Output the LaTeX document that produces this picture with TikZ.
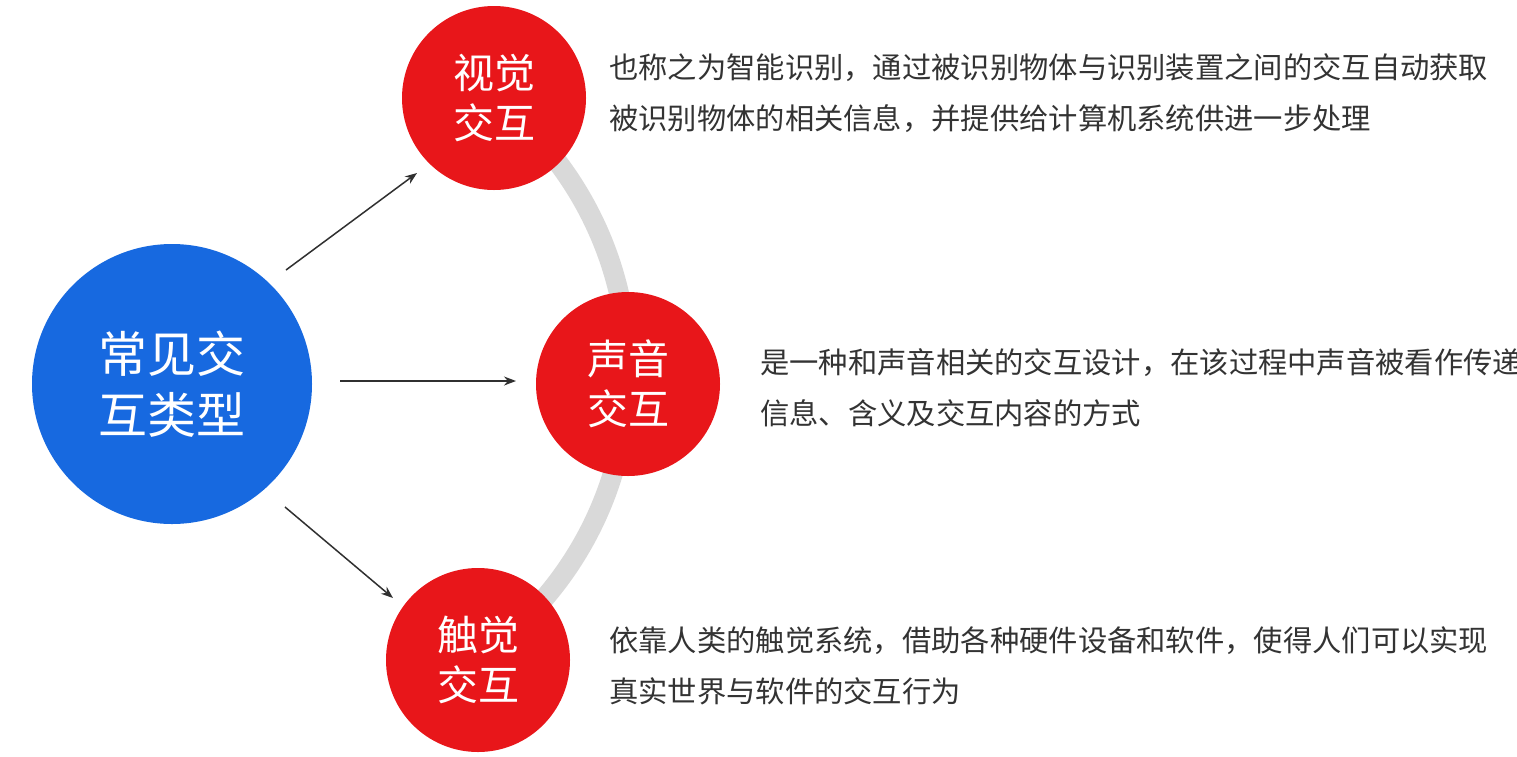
\documentclass[tikz,border=0pt]{standalone}
\usepackage{fontspec}
\newfontfamily\cjk{Noto Sans CJK SC}
\usetikzlibrary{arrows.meta,calc}
\definecolor{bluec}{HTML}{1769E0}
\definecolor{redc}{HTML}{E8161A}
\definecolor{arcgray}{HTML}{D9D9D9}
\definecolor{txt}{HTML}{333333}
\definecolor{arrc}{HTML}{303030}
\tikzset{
  hub/.style={circle,fill=bluec,minimum size=280pt,inner sep=0pt,text=white,align=center,font=\cjk\fontsize{49}{61}\selectfont},
  kind/.style={circle,fill=redc,minimum size=184pt,inner sep=0pt,text=white,align=center,font=\cjk\fontsize{41}{50}\selectfont},
  desc/.style={anchor=west,inner sep=0pt,align=left,text=txt,font=\cjk\fontsize{29.3}{51}\selectfont},
  arr/.style={draw=arrc,line width=1.5pt,-{Stealth[length=12pt,width=9pt]}}
}
\begin{document}
\begin{tikzpicture}[x=1pt,y=-1pt]
\useasboundingbox (0,0) rectangle (1517,756);
\fill[white] (0,0) rectangle (1517,756);
% gray arc
\coordinate (arcc) at (280,372);
\draw[arcgray,line width=20pt] ($(arcc)+(-52:348)$) arc[start angle=-52,end angle=56,radius=348];
% nodes
\node[hub] (hub) at (172,384) {常见交\\互类型};
\node[kind] (vis) at (494,98) {视觉\\交互};
\node[kind] (snd) at (628,384) {声音\\交互};
\node[kind] (tch) at (478,660) {触觉\\交互};
% arrows
\coordinate (a1s) at ($(hub.center)+(114,-114)$);
\coordinate (a1e) at ($(vis.center)+(-77,75)$);
\coordinate (a2s) at ($(hub.center)+(168,-3)$);
\coordinate (a2e) at ($(snd.center)+(-112,-3)$);
\coordinate (a3s) at ($(hub.center)+(113,123)$);
\coordinate (a3e) at ($(tch.center)+(-85,-62)$);
\draw[arr] (a1s) -- (a1e);
\draw[arr] (a2s) -- (a2e);
\draw[arr] (a3s) -- (a3e);
% descriptions
\begin{scope}
\clip (0,0) rectangle (1517,756);
\node[desc] (dvis) at (609,93) {也称之为智能识别，通过被识别物体与识别装置之间的交互自动获取\\被识别物体的相关信息，并提供给计算机系统供进一步处理};
\node[desc] (dsnd) at (760,388) {是一种和声音相关的交互设计，在该过程中声音被看作传递\\信息、含义及交互内容的方式};
\node[desc] (dtch) at (609,666) {依靠人类的触觉系统，借助各种硬件设备和软件，使得人们可以实现\\真实世界与软件的交互行为};
\end{scope}
\end{tikzpicture}
\end{document}
